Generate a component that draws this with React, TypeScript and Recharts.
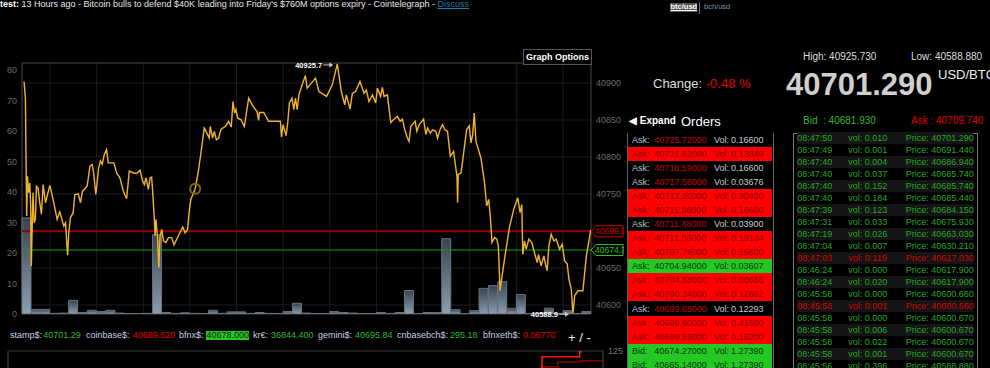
import React from 'react';
import {
  ComposedChart, LineChart, Line, Bar, XAxis, YAxis, CartesianGrid,
  ReferenceLine, ReferenceDot, ReferenceArea,
} from 'recharts';

const FONT = '"Liberation Sans", Arial, Helvetica, sans-serif';

// ---------- price line ----------
const priceTimes = [
  '07:47:13','07:47:22','07:47:26','07:47:30','07:47:35','07:47:43','07:47:50','07:47:56','07:48:00','07:48:07',
  '07:48:11','07:48:18','07:48:26','07:48:33','07:48:43','07:48:54','07:49:05','07:49:16','07:49:31','07:49:59',
  '07:50:20','07:50:46','07:51:03','07:51:29','07:51:40','07:51:53','07:52:01','07:52:12','07:52:29','07:52:40',
  '07:53:02','07:53:16','07:53:29','07:53:59','07:54:17','07:54:32','07:54:42','07:54:55','07:55:13','07:55:25',
  '07:55:36','07:55:49','07:56:04','07:56:15','07:56:51','07:57:09','07:57:30','07:57:52','07:58:13','07:58:30',
  '07:58:56','07:59:18','07:59:39','07:59:56','08:00:07','08:00:18','08:00:33','08:00:44','08:00:54','08:01:01',
  '08:01:10','08:01:16','08:01:22','08:01:31','08:01:40','08:01:48','08:01:59','08:02:10','08:02:25','08:02:42',
  '08:03:03','08:03:18','08:03:46','08:04:14','08:04:29','08:04:45','08:04:55','08:05:06','08:05:34','08:05:56',
  '08:06:17','08:06:32','08:06:49','08:07:04','08:07:11','08:07:26','08:07:37','08:07:50','08:08:05','08:08:20',
  '08:08:48','08:09:09','08:09:26','08:09:37','08:09:48','08:09:56','08:10:07','08:10:29','08:10:50','08:11:18',
  '08:11:46','08:12:12','08:12:22','08:12:27','08:12:55','08:13:27','08:14:42','08:14:49','08:14:59','08:15:19',
  '08:15:30','08:15:40','08:15:57','08:16:08','08:16:19','08:16:30','08:16:41','08:17:02','08:17:23','08:17:34',
  '08:18:28','08:18:50','08:19:39','08:20:16','08:20:48','08:21:14','08:21:36','08:21:46','08:22:10','08:22:25',
  '08:22:46','08:23:14','08:23:40','08:23:55','08:24:12','08:24:34','08:24:55','08:25:06','08:25:27','08:25:38',
  '08:25:49','08:26:10','08:26:32','08:26:49','08:27:15','08:27:32','08:27:47','08:28:02','08:28:19','08:28:30',
  '08:28:41','08:28:58','08:29:09','08:29:20','08:29:35','08:30:03','08:30:18','08:30:29','08:30:46','08:31:01',
  '08:31:22','08:31:33','08:31:50','08:32:05','08:32:20','08:32:37','08:32:55','08:33:16','08:33:38','08:33:42',
  '08:33:46','08:34:04','08:34:21','08:34:40','08:34:57','08:35:08','08:35:19','08:35:29','08:35:40','08:36:12',
  '08:36:34','08:36:49','08:37:02','08:37:13','08:37:23','08:37:39','08:37:54','08:38:04','08:38:15','08:38:28',
  '08:38:47','08:39:15','08:39:43','08:40:09','08:40:24','08:40:35','08:40:41','08:40:52','08:41:03','08:41:20',
  '08:41:39','08:41:56','08:42:14','08:42:22','08:42:39','08:42:57','08:43:07','08:43:18','08:43:29','08:43:44',
  '08:44:01','08:44:16','08:44:38','08:44:55','08:45:10','08:45:27','08:45:38','08:45:53','08:46:04','08:46:15',
  '08:46:36','08:47:08','08:47:30','08:47:45','08:47:58',
];
const prices = [
  40902.0,40879.4,40796.5,40720.1,40773.9,40751.8,40764.9,40733.7,40652.8,40720.6,
  40751.8,40711.1,40715.6,40760.4,40758.3,40738.2,40722.6,40762.8,40738.2,40761.6,
  40742.7,40715.6,40725.9,40706.6,40711.1,40667.2,40697.6,40718.1,40724.7,40749.3,
  40750.1,40738.2,40753.8,40760.4,40787.5,40789.9,40776.4,40749.3,40785.4,40794.5,
  40789.9,40803.1,40810.1,40792.0,40792.0,40778.4,40771.9,40753.8,40743.5,40780.9,
  40778.4,40777.6,40782.1,40767.4,40762.8,40771.9,40756.3,40771.9,40772.7,40751.8,
  40720.1,40693.5,40715.6,40693.5,40650.8,40693.5,40702.1,40686.5,40684.4,40691.0,
  40691.0,40681.2,40693.5,40705.4,40697.6,40702.1,40724.7,40742.7,40757.1,40782.9,
  40814.6,40839.2,40832.2,40825.6,40841.2,40825.6,40834.7,40823.2,40825.6,40837.6,
  40841.2,40848.2,40840.4,40874.9,40859.3,40864.2,40852.7,40850.3,40841.2,40879.4,
  40868.3,40861.4,40849.5,40860.1,40860.1,40848.2,40848.2,40826.9,40843.7,40828.9,
  40848.2,40872.9,40879.4,40863.8,40879.4,40863.8,40883.9,40897.5,40910.0,40893.0,
  40906.5,40888.5,40881.9,40897.5,40925.7,40888.5,40870.4,40883.9,40864.6,40886.0,
  40888.5,40902.0,40886.0,40890.5,40874.9,40883.9,40872.9,40893.0,40881.9,40894.2,
  40881.9,40883.9,40846.6,40850.3,40854.8,40848.2,40851.1,40836.7,40825.6,40821.1,
  40841.2,40845.8,40848.2,40834.7,40843.7,40851.1,40830.2,40839.2,40832.2,40836.7,
  40834.7,40825.6,40837.6,40843.7,40836.7,40834.7,40801.0,40807.6,40773.9,40738.2,
  40776.4,40778.4,40805.5,40836.7,40842.1,40819.1,40830.2,40859.3,40821.1,40798.6,
  40767.4,40733.7,40742.7,40718.1,40684.4,40691.0,40688.9,40679.9,40619.2,40639.3,
  40666.4,40704.6,40729.2,40744.8,40724.7,40735.7,40668.4,40686.5,40675.4,40688.9,
  40684.4,40670.9,40657.3,40668.4,40652.8,40666.4,40655.3,40646.3,40679.9,40695.5,
  40686.5,40688.9,40675.4,40682.0,40659.8,40655.3,40634.8,40621.6,40588.9,40612.6,
  40619.2,40619.2,40666.4,40684.4,40701.3,
];

// ---------- volume bars (one per minute) ----------
const volumeMinutes = [
  '07:47','07:48','07:49','07:50','07:51','07:52','07:53','07:54','07:55','07:56','07:57','07:58','07:59',
  '08:00','08:01','08:02','08:03','08:04','08:05','08:06','08:07','08:08','08:09','08:10','08:11','08:12',
  '08:13','08:14','08:15','08:16','08:17','08:18','08:19','08:20','08:21','08:22','08:23','08:24','08:25',
  '08:26','08:27','08:28','08:29','08:30','08:31','08:32','08:33','08:34','08:35','08:36','08:37','08:38',
  '08:39','08:40','08:41','08:42','08:43','08:44','08:45','08:46','08:47',
];
const volumes = [
  31.5,1.5,1.5,0.2,0.3,4.5,0.5,1.2,0.8,1.2,0.3,0.1,0.1,
  0.2,26,0.5,0.2,0.4,0.2,0.1,1.2,0.2,0.7,0.7,0.2,0.5,
  0.2,0.1,0.8,3.5,0.3,0.1,0.1,0.8,0.5,0.3,0.1,0.1,0.5,
  0.2,0.5,7.7,0.1,0.5,0.5,24.7,1.4,0.1,1.1,8.4,9.3,10.6,
  1.9,6.4,0.1,0.2,1.9,0.2,1.1,0.1,0.8,
];

const timeDomain = ['07:47:00', '08:48:00'];
const timeTicks = ['07:50','07:55','08:00','08:05','08:10','08:15','08:20','08:25','08:30','08:35','08:40','08:45'];
const volumeTicks = [0, 10, 20, 30, 40, 50, 60, 70, 80];
const volumeDomain = [0, 82.3];
const priceTicks = [40600, 40650, 40700, 40750, 40800, 40850, 40900];
const priceDomain = [40587.8, 40927];

const askLevel = 40699.6;
const bidLevel = 40674.27;
const highPoint = { time: '08:20:48', price: 40925.7 };
const lowPoint = { time: '08:46:04', price: 40588.9 };
const cursorPoint = { time: '08:05:34', price: 40757.1 };

// ---------- ticker ----------
const tickerLabels = ['stamp$:', 'coinbase$:', 'bfnx$:', 'kr€:', 'gemini$:', 'cnbasebch$:', 'bfnxeth$:'];
const tickerValues = ['40701.29', '40689.520', '40678.000', '36844.400', '40695.84', '295.18', '0.06770'];
const tickerMoves = ['up', 'down', 'flash', 'up', 'up', 'up', 'down'];

// ---------- order book ----------
const bookSides = ['Ask','Ask','Ask','Ask','Ask','Ask','Ask','Ask','Ask','Ask','Ask','Ask','Ask','Ask','Ask','Bid','Bid'];
const bookPrices = ['40725.72000','40721.62000','40718.59000','40717.56000','40717.20000','40711.86000','40711.48000',
  '40711.03000','40707.79000','40704.94000','40704.88000','40700.34000','40699.65000','40699.60000','40699.59000',
  '40674.27000','40665.14000'];
const bookVols = ['0.16600','0.13849','0.16600','0.03676','0.30400','0.16600','0.03900','0.19134','0.16600',
  '0.03607','0.00666','0.12652','0.12293','0.41500','0.16200','1.27390','1.27390'];
const bookStates = ['plain','red','plain','plain','red','red','plain','red','red','green','red','red','plain','red','red','green','green'];

// ---------- trades ----------
const tradeTimes = ['08:47:50','08:47:49','08:47:40','08:47:40','08:47:40','08:47:40','08:47:39','08:47:31','08:47:19',
  '08:47:04','08:47:03','08:46:24','08:46:24','08:45:58','08:45:58','08:45:58','08:45:58','08:45:58','08:45:58','08:45:56'];
const tradeVols = ['0.010','0.001','0.004','0.037','0.152','0.184','0.123','0.033','0.026','0.007','0.119','0.000','0.020',
  '0.000','0.001','0.000','0.006','0.022','0.001','0.396'];
const tradePrices = ['40701.290','40691.440','40686.940','40685.740','40685.740','40685.440','40684.150','40675.930',
  '40663.030','40630.210','40617.030','40617.900','40617.900','40600.660','40600.660','40600.670','40600.670',
  '40600.670','40600.670','40588.880'];
const tradeSides = ['buy','buy','buy','buy','buy','buy','buy','buy','buy','buy','sell','buy','buy','buy','sell','buy','buy','buy','buy','buy'];

// ---------- depth mini chart ----------
const depthX = [10.6, 10.77, 11.09, 11.53, 11.57, 12];
const depthNear = [60, 110.7, 110.7, 123.2, 123.2, null];
const depthFar = [60, 85.7, 97.5, 100.7, 100.7, 100.7];
const depthTicks = [1, 2, 3, 4, 5, 6, 7, 8, 9, 10, 11];
const depthYTicks = [125];

// ---------- helpers ----------
const toSec = (s: string) => {
  const p = s.split(':').map(Number);
  return p[0] * 3600 + p[1] * 60 + (p[2] || 0);
};
const fmtHM = (v: number) => {
  const h = Math.floor(v / 3600);
  const m = Math.round((v - h * 3600) / 60);
  return `${String(h).padStart(2, '0')}:${String(m).padStart(2, '0')}`;
};

const priceData = priceTimes.map((t, i) => ({ t: toSec(t), price: prices[i] }));
const volumeData = volumeMinutes.map((m, i) => ({ minute: m, vol: volumes[i] }));
const depthData = depthX.map((x, i) => ({ x, near: depthNear[i], far: depthFar[i] }));

const GREEN = '#2fb82f';
const RED = '#e00000';

function Txt({ x, b, fs, color = '#ddd', bold = false, children, style = {} }: any) {
  return (
    <div style={{
      position: 'absolute', left: x, top: b - 0.8465 * fs, fontSize: fs, lineHeight: `${fs}px`,
      color, fontWeight: bold ? 700 : 400, whiteSpace: 'nowrap', ...style,
    }}>{children}</div>
  );
}

function TagLabel(props: any) {
  const { viewBox, text, color } = props;
  if (!viewBox) return null;
  const x = viewBox.x + viewBox.width;
  const y = viewBox.y;
  return (
    <g>
      <polygon
        points={`${x},${y} ${x + 5},${y - 5.5} ${x + 32},${y - 5.5} ${x + 32},${y + 5.5} ${x + 5},${y + 5.5}`}
        fill="#000" stroke={color} strokeWidth={1}
      />
      <text x={x + 4} y={y} dy="0.35em" fill={color} fontSize={8.5}>{text}</text>
    </g>
  );
}

// right-axis tick; the price tags sit on top of the tick that they cover
function PriceTick(props: any) {
  const { x, y, payload } = props;
  const v = payload?.value;
  if ([askLevel, bidLevel].some((l) => Math.abs(l - v) < 6)) return null;
  return (
    <text x={x} y={y} dy="0.355em" fill="#6a6a6a" fontSize={9} textAnchor="start">{v}</text>
  );
}

function Annot(props: any) {
  const { cx, cy, text } = props;
  if (cx == null || cy == null) return null;
  const y = cy + 1;
  return (
    <g>
      <text x={cx - 15} y={y} dy="0.35em" textAnchor="end" fill="#fff" fontSize={7.5} fontWeight={700}>{text}</text>
      <line x1={cx - 14} y1={y} x2={cx - 6} y2={y} stroke="#ccc" strokeWidth={1} />
      <polygon points={`${cx - 4},${y} ${cx - 8},${y - 2.5} ${cx - 8},${y + 2.5}`} fill="#ccc" />
    </g>
  );
}

function MainChart() {
  const axisTick = { fill: '#6a6a6a', fontSize: 9 };
  return (
    <ComposedChart
      width={624} height={340} data={volumeData}
      margin={{ top: 63, right: 0, bottom: 6, left: 0 }}
      barCategoryGap={0} barGap={0}
    >
      <defs>
        <linearGradient id="volGrad" x1="0" y1="0" x2="0" y2="1">
          <stop offset="0%" stopColor="#39434e" />
          <stop offset="100%" stopColor="#8d9eb1" />
        </linearGradient>
      </defs>
      <CartesianGrid xAxisId="time" yAxisId="price" stroke="#1c1c1c" strokeWidth={1} />
      <XAxis xAxisId="bars" dataKey="minute" type="category" hide />
      <XAxis
        xAxisId="time" type="number" dataKey="t"
        domain={timeDomain.map(toSec)} ticks={timeTicks.map(toSec)} tickFormatter={fmtHM}
        allowDataOverflow height={20} tick={{ fill: '#777', fontSize: 9.5 }}
        tickSize={3} tickMargin={2} tickLine={false} axisLine={false}
      />
      <YAxis
        yAxisId="vol" orientation="left" domain={volumeDomain} ticks={volumeTicks} width={22}
        allowDataOverflow tick={axisTick} tickSize={3} tickMargin={2} tickLine={false} axisLine={false}
      />
      <YAxis
        yAxisId="price" orientation="right" domain={priceDomain} ticks={priceTicks} width={33}
        allowDataOverflow tick={<PriceTick />} tickSize={3} tickMargin={2} tickLine={false} axisLine={false}
      />
      <ReferenceArea
        xAxisId="time" yAxisId="price"
        x1={toSec(timeDomain[0])} x2={toSec(timeDomain[1])} y1={priceDomain[0]} y2={priceDomain[1]}
        fill="none" stroke="#3a3a3a" strokeWidth={1} fillOpacity={0}
      />
      <Bar xAxisId="bars" yAxisId="vol" dataKey="vol" fill="url(#volGrad)" stroke="#66747f" strokeWidth={1} isAnimationActive={false} />
      <ReferenceLine
        xAxisId="time" yAxisId="price" y={askLevel} stroke="#930000" strokeWidth={2}
        label={<TagLabel text={askLevel.toFixed(1)} color="#d00000" />}
      />
      <ReferenceLine
        xAxisId="time" yAxisId="price" y={bidLevel} stroke="#16a016" strokeWidth={1}
        label={<TagLabel text={bidLevel.toFixed(1)} color="#25c025" />}
      />
      <Line
        xAxisId="time" yAxisId="price" data={priceData} dataKey="price" type="linear"
        stroke="#f0b42c" strokeWidth={1.4} dot={false} activeDot={false} isAnimationActive={false}
      />
      <ReferenceDot
        xAxisId="time" yAxisId="price" x={toSec(cursorPoint.time)} y={cursorPoint.price}
        r={5} fill="none" stroke="#7f661c" strokeWidth={2}
      />
      <ReferenceDot
        xAxisId="time" yAxisId="price" x={toSec(highPoint.time)} y={highPoint.price}
        shape={(p: any) => <Annot cx={p.cx} cy={p.cy} text={highPoint.price.toFixed(1)} />}
      />
      <ReferenceDot
        xAxisId="time" yAxisId="price" x={toSec(lowPoint.time)} y={lowPoint.price}
        shape={(p: any) => <Annot cx={p.cx} cy={p.cy} text={lowPoint.price.toFixed(1)} />}
      />
    </ComposedChart>
  );
}

function DepthChart() {
  return (
    <LineChart width={640} height={62} data={depthData} margin={{ top: 5, right: 0, bottom: 6, left: 8 }}>
      <CartesianGrid horizontal={false} stroke="#242424" />
      <XAxis type="number" dataKey="x" domain={[0, 12]} ticks={depthTicks} height={1} tick={false} tickLine={false} axisLine={false} />
      <YAxis orientation="right" domain={[0, 125]} ticks={depthYTicks} width={37} interval={0}
        tick={{ fill: '#777', fontSize: 9 }} tickSize={3} tickMargin={2} tickLine={false} axisLine={false} />
      <ReferenceArea x1={0} x2={12} y1={0} y2={125} fill="none" fillOpacity={0} stroke="#3a3a3a" />
      <Line type="stepAfter" dataKey="far" stroke="#8a0000" strokeWidth={1.5} dot={false} isAnimationActive={false} />
      <Line type="stepAfter" dataKey="near" stroke="#ff1f1f" strokeWidth={1.5} dot={false} isAnimationActive={false} />
    </LineChart>
  );
}

const tickerLayout = [[10, 43.3], [86, 132.7], [179, 206], [253, 271], [318, 355], [397, 450], [483, 523]];

const cell = (left: number, color: string): React.CSSProperties => ({ position: 'absolute', left, color, whiteSpace: 'nowrap' });

export default function App() {
  return (
    <div style={{ position: 'fixed', left: 0, top: 0, width: 990, height: 368, background: '#000', overflow: 'hidden', fontFamily: FONT }}>
      {/* headline */}
      <Txt x={0} b={7.6} fs={9} color="#e6e6e6">
        <b style={{ color: '#fff' }}>test:</b> 13 Hours ago - Bitcoin bulls to defend $40K leading into Friday's $760M options expiry - Cointelegraph - <span style={{ color: '#1b7fa6', textDecoration: 'underline' }}>Discuss</span>
      </Txt>
      {/* pair nav */}
      <div style={{ position: 'absolute', left: 670, top: 3, height: 8.5, width: 27, background: '#555' }} />
      <Txt x={670.5} b={9.8} fs={7.5} color="#fff" bold style={{ textDecoration: 'underline' }}>btc/usd</Txt>
      <div style={{ position: 'absolute', left: 699, top: 2, width: 1, height: 12, background: '#4a74b0' }} />
      <Txt x={704} b={9.8} fs={7.5} color="#7a93ad">bch/usd</Txt>

      {/* main chart */}
      <div style={{ position: 'absolute', left: 0, top: 0 }}>
        <MainChart />
      </div>
      <div style={{ position: 'absolute', left: 523, top: 49, width: 67, height: 14, border: '1px solid #555', background: '#000',
        color: '#fff', fontWeight: 700, fontSize: 9, lineHeight: '14px', textAlign: 'center', whiteSpace: 'nowrap' }}>Graph Options</div>

      {/* ticker */}
      {tickerLabels.map((l, i) => {
        const mv = tickerMoves[i];
        const [lx, vx] = tickerLayout[i];
        return (
          <React.Fragment key={l}>
            <Txt x={lx} b={338.5} fs={9} color="#c9d2e0">{l}</Txt>
            {mv === 'flash' && <div style={{ position: 'absolute', left: vx, top: 331, width: 42.5, height: 9, background: '#27c427' }} />}
            <Txt x={mv === 'flash' ? vx + 0.5 : vx} b={338.5} fs={9} color={mv === 'down' ? RED : mv === 'flash' ? '#063006' : GREEN}>{tickerValues[i]}</Txt>
          </React.Fragment>
        );
      })}
      <Txt x={568} b={342} fs={13} color="#eee">+ / -</Txt>

      {/* depth chart */}
      <div style={{ position: 'absolute', left: 0, top: 346 }}>
        <DepthChart />
      </div>

      {/* ticker summary */}
      <Txt x={653} b={88.5} fs={13} color="#ddd">Change: <span style={{ color: RED }}>-0.48 %</span></Txt>
      <Txt x={803} b={60.7} fs={10} color="#ddd">High: 40925.730</Txt>
      <Txt x={911} b={60.7} fs={10} color="#ddd">Low: 40588.880</Txt>
      <Txt x={786} b={95} fs={31} color="#cfcfcf" bold>40701.290</Txt>
      <Txt x={938} b={79} fs={13} color="#eee">USD/BTC</Txt>
      <Txt x={803} b={124.3} fs={10} color={GREEN}>Bid&nbsp; : 40681.930</Txt>
      <Txt x={911} b={124.3} fs={10} color={RED}>Ask : 40709.740</Txt>
      <Txt x={629} b={124.3} fs={10} color="#fff" bold>◀ Expand</Txt>
      <Txt x={681} b={126} fs={13} color="#fff">Orders</Txt>

      {/* order book */}
      <div style={{ position: 'absolute', left: 627, top: 132.7, width: 145, height: 240, borderLeft: '1px solid #666', borderRight: '1px solid #666' }} />
      <div style={{ position: 'absolute', left: 765, top: 132.7, width: 7, height: 1, background: '#666' }} />
      {bookSides.map((s, i) => {
        const st = bookStates[i];
        const bg = st === 'red' ? '#ff0000' : st === 'green' ? '#25c725' : '#000';
        const labelC = st === 'red' ? '#8a0000' : st === 'green' ? '#063a06' : '#b9c4d2';
        const priceC = st === 'red' ? '#8a0000' : st === 'green' ? '#063a06' : '#c80000';
        const volC = st === 'red' ? '#8a0000' : st === 'green' ? '#063a06' : '#c9c9c9';
        const top = 132.8 + i * 14.06;
        return (
          <div key={i} style={{ position: 'absolute', left: 628, top, width: 144, height: 14, background: bg, fontSize: 9, lineHeight: '14px' }}>
            <span style={cell(4, labelC)}>{s}:</span>
            <span style={cell(26.3, priceC)}>{bookPrices[i]}</span>
            <span style={cell(86, volC)}>Vol:</span>
            <span style={cell(103, volC)}>{bookVols[i]}</span>
          </div>
        );
      })}

      {/* trades */}
      <div style={{ position: 'absolute', left: 792.7, top: 132.7, width: 183, height: 240, borderLeft: '1px solid #777', borderRight: '1px solid #777' }} />
      <div style={{ position: 'absolute', left: 792.7, top: 132.7, width: 5, height: 1, background: '#777' }} />
      <div style={{ position: 'absolute', left: 972, top: 132.7, width: 5, height: 1, background: '#777' }} />
      {tradeTimes.map((t, i) => {
        const c = tradeSides[i] === 'sell' ? '#d40000' : '#27a627';
        return (
          <div key={i} style={{ position: 'absolute', left: 796.7, top: 132 + i * 12, width: 176.6, height: 12,
            background: i % 2 === 0 ? '#151515' : '#000', fontSize: 9, lineHeight: '12px' }}>
            <span style={cell(0.6, c)}>{t}</span>
            <span style={cell(51.6, c)}>vol: {tradeVols[i]}</span>
            <span style={cell(109, c)}>Price: {tradePrices[i]}</span>
          </div>
        );
      })}
    </div>
  );
}
